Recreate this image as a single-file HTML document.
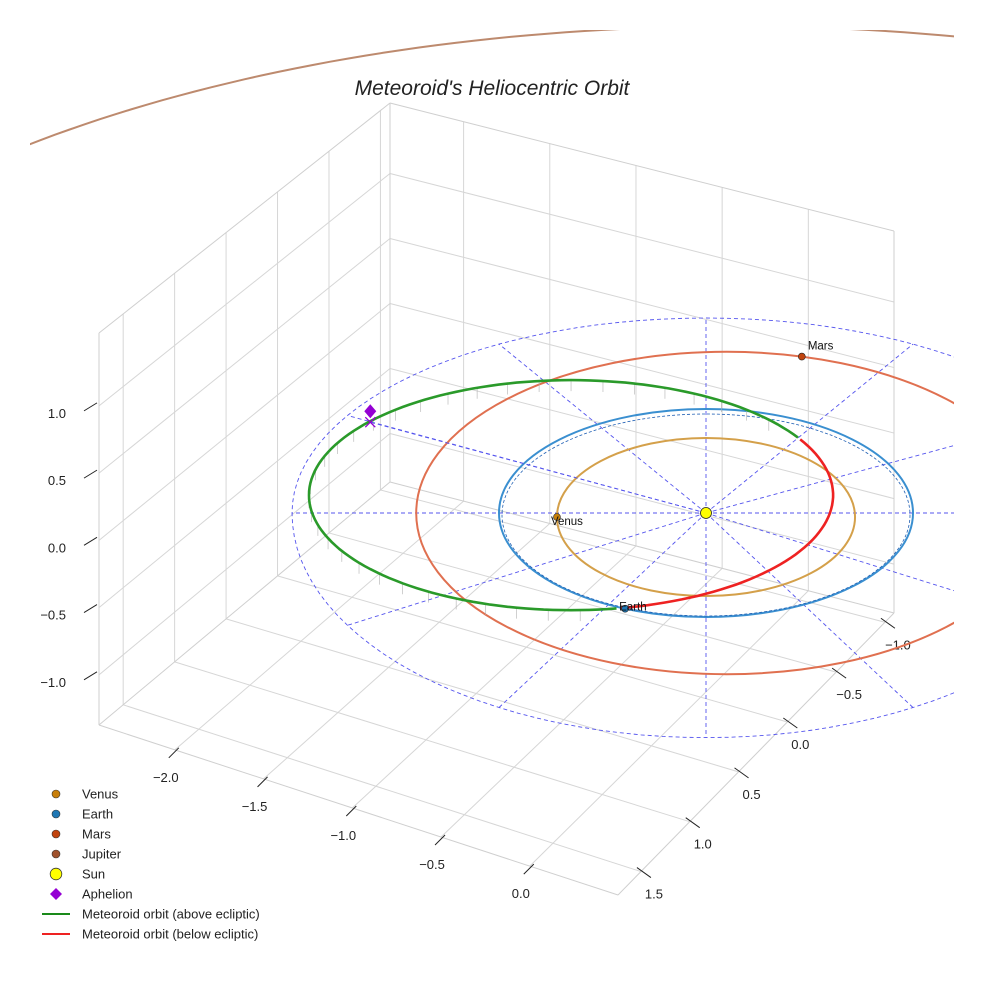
<!DOCTYPE html>
<html><head><meta charset="utf-8"><style>
body{margin:0;background:#fff}
svg text{font-family:"Liberation Sans",sans-serif}
</style></head><body>
<svg id="c" width="984" height="984" viewBox="0 0 984 984">
<defs><clipPath id="clip"><rect x="30" y="30" width="924" height="930"/></clipPath></defs>
<g id="grid"></g>
<g id="ticks"></g>
<g id="orbits" clip-path="url(#clip)"></g>
<g id="legend"></g>
<text x="492" y="95" text-anchor="middle" font-size="21" font-style="italic" fill="#222">Meteoroid's Heliocentric Orbit</text>
</svg>
<script>
const xTicks=[-2.0,-1.5,-1.0,-0.5,0.0];
const yTicks=[-1.0,-0.5,0.0,0.5,1.0,1.5];
const zTicks=[-1.0,-0.5,0.0,0.5,1.0];
const planetNames=["Venus","Earth","Mars","Jupiter"];
const orbitA=[0.72,1.0,1.5,5.22];
const orbitB=[0.76,1.0,1.55,4.68];
const orbitOffX=[0,0,0.1,0.14];
const orbitColors=["#d4a04a","#3a8fd0","#e07050","#bd8a6e"];
const planetAngles=[180,113,-76,0];
const planetShown=[true,true,true,false];
const planetColors=["#c87f0a","#1f77b4","#c1440e","#a0522d"];
const meteorA=1.266, meteorB=1.106, meteorCx=-0.652, meteorCy=-0.21;
const redStart=-29, redEnd=80, aphelionT=-140;
const refA=2.0, refBTop=1.875, refBBot=2.16;

const NS="http://www.w3.org/2000/svg";
function mk(tag,attrs,parent){const e=document.createElementNS(NS,tag);for(const k in attrs)e.setAttribute(k,attrs[k]);parent.appendChild(e);return e;}
const Xmin=-2.427,Xmax=0.497,Ymin=-1.093,Ymax=1.735,Zmin=-1.373,Zmax=1.542;
const cL=[99,725],cF=[618,895],cR=[894,613],cB=[390,482];
const hL=392,hF=392,hR=382,hB=379;
function P(x,y,z){const u=(x-Xmin)/(Xmax-Xmin),v=(Ymax-y)/(Ymax-Ymin);
const bl=(a,b,c,d)=>(1-u)*(1-v)*a+u*(1-v)*b+u*v*c+(1-u)*v*d;
const fx=bl(cL[0],cF[0],cR[0],cB[0]),fy=bl(cL[1],cF[1],cR[1],cB[1]),h=bl(hL,hF,hR,hB);
return [fx,fy-h*(z-Zmin)/(Zmax-Zmin)];}
const SX=706,SY=517,KX=207,KY=104;
function O(u,v){return [SX+u*KX,SY+v*KY];}
const grid=document.getElementById('grid'),ticks=document.getElementById('ticks'),orb=document.getElementById('orbits'),leg=document.getElementById('legend');
function line(a,b,st,par,name){const l=mk('line',{x1:a[0],y1:a[1],x2:b[0],y2:b[1],stroke:st.c,'stroke-width':st.w||1},par);if(st.d)l.setAttribute('stroke-dasharray',st.d);return l;}
const gs={c:'#d6d6d6',w:1};
xTicks.forEach(x=>line(P(x,Ymin,Zmin),P(x,Ymax,Zmin),gs,grid,'floor-grid-x'));
yTicks.forEach(y=>line(P(Xmin,y,Zmin),P(Xmax,y,Zmin),gs,grid,'floor-grid-y'));
yTicks.forEach(y=>line(P(Xmin,y,Zmin),P(Xmin,y,Zmax),gs,grid,'left-wall-grid-y'));
zTicks.forEach(z=>line(P(Xmin,Ymin,z),P(Xmin,Ymax,z),gs,grid,'left-wall-grid-z'));
xTicks.forEach(x=>line(P(x,Ymin,Zmin),P(x,Ymin,Zmax),gs,grid,'back-wall-grid-x'));
zTicks.forEach(z=>line(P(Xmin,Ymin,z),P(Xmax,Ymin,z),gs,grid,'back-wall-grid-z'));
const es={c:'#cfcfcf',w:1};
[[P(Xmin,Ymax,Zmin),P(Xmax,Ymax,Zmin)],[P(Xmax,Ymin,Zmin),P(Xmax,Ymax,Zmin)],[P(Xmin,Ymin,Zmin),P(Xmin,Ymin,Zmax)],[P(Xmin,Ymax,Zmin),P(Xmin,Ymax,Zmax)],[P(Xmax,Ymin,Zmin),P(Xmax,Ymin,Zmax)],[P(Xmin,Ymin,Zmin),P(Xmin,Ymax,Zmin)],[P(Xmin,Ymin,Zmin),P(Xmax,Ymin,Zmin)],[P(Xmin,Ymin,Zmax),P(Xmin,Ymax,Zmax)],[P(Xmin,Ymin,Zmax),P(Xmax,Ymin,Zmax)]].forEach(e=>line(e[0],e[1],es,grid,'box-edge'));
const ts={c:'#222',w:1};
function lbl(p,t,anchor,name){const e=mk('text',{x:p[0],y:p[1],'font-size':13,fill:'#222','text-anchor':anchor},ticks);e.textContent=t;}
function fmt(v){return (v<0?'\u2212':'')+Math.abs(v).toFixed(1);}
xTicks.forEach(x=>{const a=P(x,Ymax,Zmin);line([a[0]-6,a[1]+8],[a[0]+4,a[1]-2],ts,ticks,'x-tick');lbl([a[0]-9,a[1]+32],fmt(x),'middle','x-tick-label');});
yTicks.forEach(y=>{const a=P(Xmax,y,Zmin);line([a[0]-4,a[1]-4],[a[0]+10,a[1]+6],ts,ticks,'y-tick');lbl([a[0]+13,a[1]+27],fmt(y),'middle','y-tick-label');});
zTicks.forEach(z=>{const a=P(Xmin,Ymax,z);line([a[0]-15,a[1]+5],[a[0]-2,a[1]-3],ts,ticks,'z-tick');lbl([66,a[1]+12],fmt(z),'end','z-tick-label');});
const rs={c:'#5555ee',w:0.9,d:'4,3'};
function refPt(a){const r=a*Math.PI/180,s=Math.sin(r);return [SX+refA*KX*Math.cos(r),513+(s>0?refBBot:refBTop)*KY*s];}
let rd='';for(let a=0;a<=360;a+=3){const p=refPt(a);rd+=(rd?'L':'M')+p[0].toFixed(1)+','+p[1].toFixed(1);}
const rel=mk('path',{d:rd,fill:'none',stroke:'#5555ee','stroke-width':0.9,'stroke-dasharray':'4,3'},orb);

for(let a=0;a<360;a+=30){line([SX,513],refPt(a),rs,orb,'ecliptic-radial-line');}
planetNames.forEach((n,i)=>{let e;
if(n==="Jupiter"){let d='';for(let a=180;a<=360;a+=1){const r=a*Math.PI/180;const p=[SX+orbitOffX[i]*KX+orbitA[i]*KX*Math.cos(r),SY-4+orbitB[i]*KY*Math.sin(r)];d+=(d?'L':'M')+p[0].toFixed(1)+','+p[1].toFixed(1);}
e=mk('path',{d:d,fill:'none',stroke:orbitColors[i],'stroke-width':2},orb);}
else e=mk('ellipse',{cx:SX+orbitOffX[i]*KX,cy:SY-4+(i==0?4:0),rx:orbitA[i]*KX,ry:orbitB[i]*KY,fill:'none',stroke:orbitColors[i],'stroke-width':2},orb);
});
const e2=mk('ellipse',{cx:SX,cy:SY-2,rx:KX-3,ry:KY-3,fill:'none',stroke:'#1f5fb4','stroke-width':0.8,'stroke-dasharray':'3,2'},orb);

function M(t){const r=t*Math.PI/180;return O(meteorCx+meteorA*Math.cos(r),meteorCy+meteorB*Math.sin(r));}
function arc(t0,t1){let d='';for(let t=t0;t<=t1+0.01;t+=2){const p=M(t);d+=(d?'L':'M')+p[0].toFixed(1)+','+p[1].toFixed(1);}return d;}
for(let t=redEnd+8;t<redStart+352;t+=7){const p=M(t);line(p,[p[0],p[1]+11],{c:'#b0b0b0',w:0.6},orb,'drop-line');}
const g=mk('path',{d:arc(redEnd,redStart+360),fill:'none',stroke:'#2a9a2a','stroke-width':2.6},orb);

const rdp=mk('path',{d:arc(redStart,redEnd),fill:'none',stroke:'#ee2222','stroke-width':2.6},orb);

const ap0=M(aphelionT);const ap=[ap0[0],ap0[1]-10];
line([SX,513],[ap[0],ap[1]+11],rs,orb,'aphelion-line');
const dm=mk('path',{d:`M${ap[0]},${ap[1]-7}L${ap[0]+6},${ap[1]}L${ap[0]},${ap[1]+7}L${ap[0]-6},${ap[1]}Z`,fill:'#9400d3'},orb);

const xm=mk('path',{d:`M${ap[0]-5},${ap[1]+6}L${ap[0]+5},${ap[1]+16}M${ap[0]+5},${ap[1]+6}L${ap[0]-5},${ap[1]+16}`,stroke:'#9400d3','stroke-width':1.3},orb);

planetNames.forEach((n,i)=>{if(!planetShown[i])return;const r=planetAngles[i]*Math.PI/180;
const p=[SX+orbitOffX[i]*KX+orbitA[i]*KX*Math.cos(r),SY-4+(i==0?4:0)+orbitB[i]*KY*Math.sin(r)];
const c=mk('circle',{cx:p[0],cy:p[1],r:3.5,fill:planetColors[i],stroke:'#222','stroke-width':0.6},orb);

const t=mk('text',{x:p[0]-6+(i==2?12:0),y:p[1]+(i==2?-7:(i==0?8:2)),'font-size':11.5,fill:'#111'},orb);t.textContent=n;
});
const sun=mk('circle',{cx:SX,cy:513,r:5.5,fill:'#ffff00',stroke:'#222','stroke-width':0.8},orb);

const legLabels=["Venus","Earth","Mars","Jupiter","Sun","Aphelion","Meteoroid orbit (above ecliptic)","Meteoroid orbit (below ecliptic)"];
const legColors=["#c87f0a","#1f77b4","#c1440e","#a0522d","#ffff00","#9400d3","#1a8a1a","#ee2222"];
legLabels.forEach((l,i)=>{const y=794+i*20;const gi=mk('g',{},leg);

if(i<4)mk('circle',{cx:56,cy:y,r:4,fill:legColors[i],stroke:'#333','stroke-width':0.6},gi);
else if(i==4)mk('circle',{cx:56,cy:y,r:5.8,fill:legColors[i],stroke:'#333','stroke-width':0.8},gi);
else if(i==5)mk('path',{d:`M56,${y-6}L62,${y}L56,${y+6}L50,${y}Z`,fill:legColors[i]},gi);
else mk('line',{x1:42,y1:y,x2:70,y2:y,stroke:legColors[i],'stroke-width':2},gi);
const t=mk('text',{x:82,y:y+4.5,'font-size':13,fill:'#222'},gi);t.textContent=l;});
</script>
</body></html>
